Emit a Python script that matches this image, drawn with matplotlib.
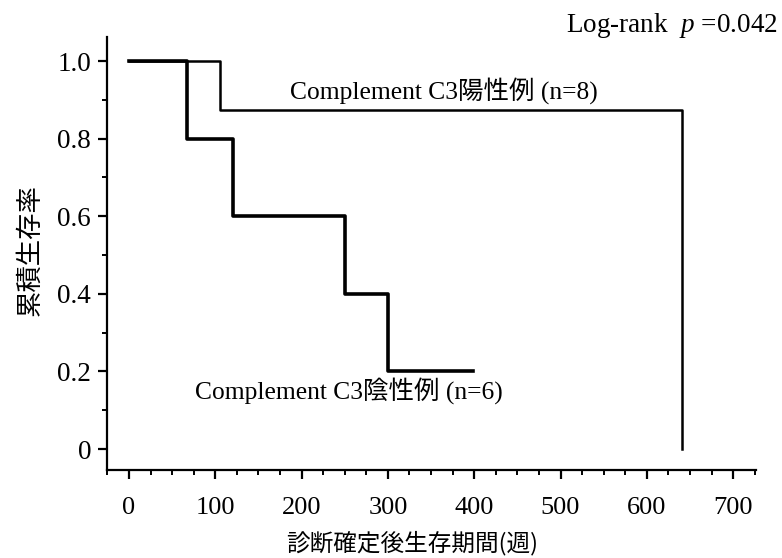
import matplotlib
matplotlib.use("Agg")
import matplotlib.pyplot as plt
from matplotlib.ticker import MultipleLocator

plt.rcParams["mathtext.fontset"] = "custom"
plt.rcParams["mathtext.it"] = "Liberation Serif:italic"
plt.rcParams["mathtext.rm"] = "Liberation Serif"

# Data (weeks, cumulative survival)
pos_times = [0, 105, 641]
pos_surv = [1.0, 0.875, 0.0]
neg_times = [0, 67, 120, 250, 300, 398]
neg_surv = [1.0, 0.8, 0.6, 0.4, 0.2, 0.2]

xticks = [0, 100, 200, 300, 400, 500, 600, 700]
yticks = [0, 0.2, 0.4, 0.6, 0.8, 1.0]
yticklabels = ["0", "0.2", "0.4", "0.6", "0.8", "1.0"]

pos_label = "Complement C3陽性例 (n=8)"
neg_label = "Complement C3陰性例 (n=6)"
xlabel = "診断確定後生存期間(週)"
ylabel = "累積生存率"

serif = ["Liberation Serif", "Noto Sans CJK JP"]
cjk = ["Noto Sans CJK JP", "DejaVu Sans"]

fig = plt.figure(figsize=(7.82, 5.58), dpi=100)
ax = fig.add_axes([0.1368, 0.1577, 0.9668 - 0.1368, 0.9337 - 0.1577])

ax.step(pos_times, pos_surv, where="post", color="black", lw=1.8)
ax.step(neg_times, neg_surv, where="post", color="black", lw=2.6)

ax.set_xlim(-25.5, 726.5)
ax.set_ylim(-0.054, 1.062)

for s in ["top", "right"]:
    ax.spines[s].set_visible(False)
for s in ["left", "bottom"]:
    ax.spines[s].set_linewidth(1.6)

ax.set_xticks(xticks)
ax.set_xticklabels([str(v) for v in xticks], fontfamily=serif, fontsize=19)
ax.xaxis.set_minor_locator(MultipleLocator(25))
ax.set_yticks(yticks)
ax.set_yticklabels(yticklabels, fontfamily=serif, fontsize=19.5)
ax.yaxis.set_minor_locator(MultipleLocator(0.1))
ax.tick_params(axis="both", which="major", direction="out", length=6.5, width=1.6)
ax.tick_params(axis="both", which="minor", direction="out", length=3.5, width=1.4)
ax.tick_params(axis="x", which="major", pad=13)
ax.tick_params(axis="y", which="major", pad=5)

ax.text(186.6, 0.925, pos_label, fontfamily=serif, fontsize=18.4, va="center", ha="left")
ax.text(76.5, 0.15, neg_label, fontfamily=serif, fontsize=18.4, va="center", ha="left")

fig.text(0.527, 0.027, xlabel, fontfamily=cjk, fontsize=17, ha="center", va="center")
fig.text(0.038, 0.552, ylabel, fontfamily=cjk, fontsize=19, ha="center", va="center", rotation=90)

fig.text(0.995, 0.955, "Log-rank  $p$ =0.042", fontfamily=serif, fontsize=19.5, ha="right", va="center")

fig.savefig("out.png", dpi=100)
